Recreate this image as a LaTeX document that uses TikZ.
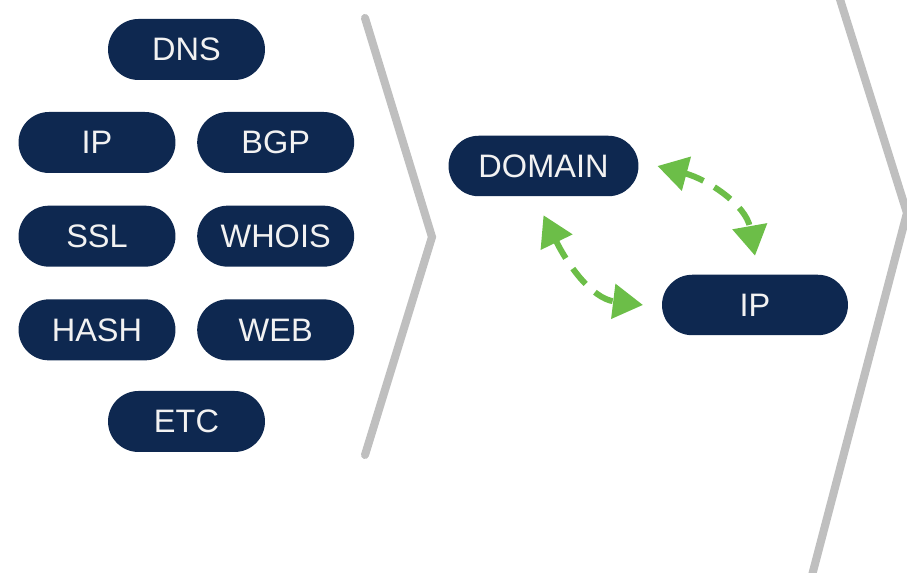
\documentclass[tikz,border=0pt]{standalone}
\usepackage{fontspec}
\setmainfont{Liberation Sans}
\usepackage{tikz}
\usetikzlibrary{arrows.meta,positioning,shapes.misc}
\definecolor{dbnavy}{HTML}{0E2850}
\definecolor{dbgreen}{HTML}{6CBE48}
\definecolor{dbgray}{HTML}{BFBFBF}
\definecolor{dbtext}{HTML}{F2F2F2}

\begin{document}
\begin{tikzpicture}[
  x=0.02cm, y=0.02cm,
  font=\fontsize{18.5}{20}\selectfont,
  node distance=0.64cm and 0.42cm,
  pill/.style={rounded rectangle, fill=dbnavy, text=dbtext, inner sep=0pt, minimum width=3.14cm, minimum height=1.22cm},
  wide/.style={pill, minimum width=3.8cm, minimum height=1.21cm, outer sep=0.38cm},
  sep/.style={draw=dbgray, line width=4.6pt, line cap=round, line join=miter},
  arr/.style={{Triangle[length=0.6cm,width=0.68cm]}-{Triangle[length=0.6cm,width=0.68cm]}, draw=dbgreen, line width=3.4pt, dash pattern=on 0.4cm off 0.25cm}
]
\useasboundingbox (0,0) rectangle (907,573);
% data sources
\node[pill] (dns) at (186.5,523.5) {DNS};
\node[pill] (ip) at (97,430.5) {IP};
\node[pill, right=of ip] (bgp) {BGP};
\node[pill, below=of ip] (ssl) {SSL};
\node[pill, right=of ssl] (whois) {WHOIS};
\node[pill, below=of ssl] (hash) {HASH};
\node[pill, right=of hash] (web) {WEB};
\node[pill] (etc) at (186.5,151.5) {ETC};
% separators
\draw[sep] (365,555) -- (432,336) -- (365,118);
\draw[sep] (838,580) -- (907,360) -- (810,-10);
% relations
\node[wide] (dom) at (543.5,407) {DOMAIN};
\node[wide, minimum width=3.72cm] (ipr) at (755,268) {IP};
\draw[arr] (dom.east) to[out=-15,in=100] (ipr.north);
\draw[arr] (dom.south) to[out=-64,in=173] (ipr.west);
\end{tikzpicture}
\end{document}
